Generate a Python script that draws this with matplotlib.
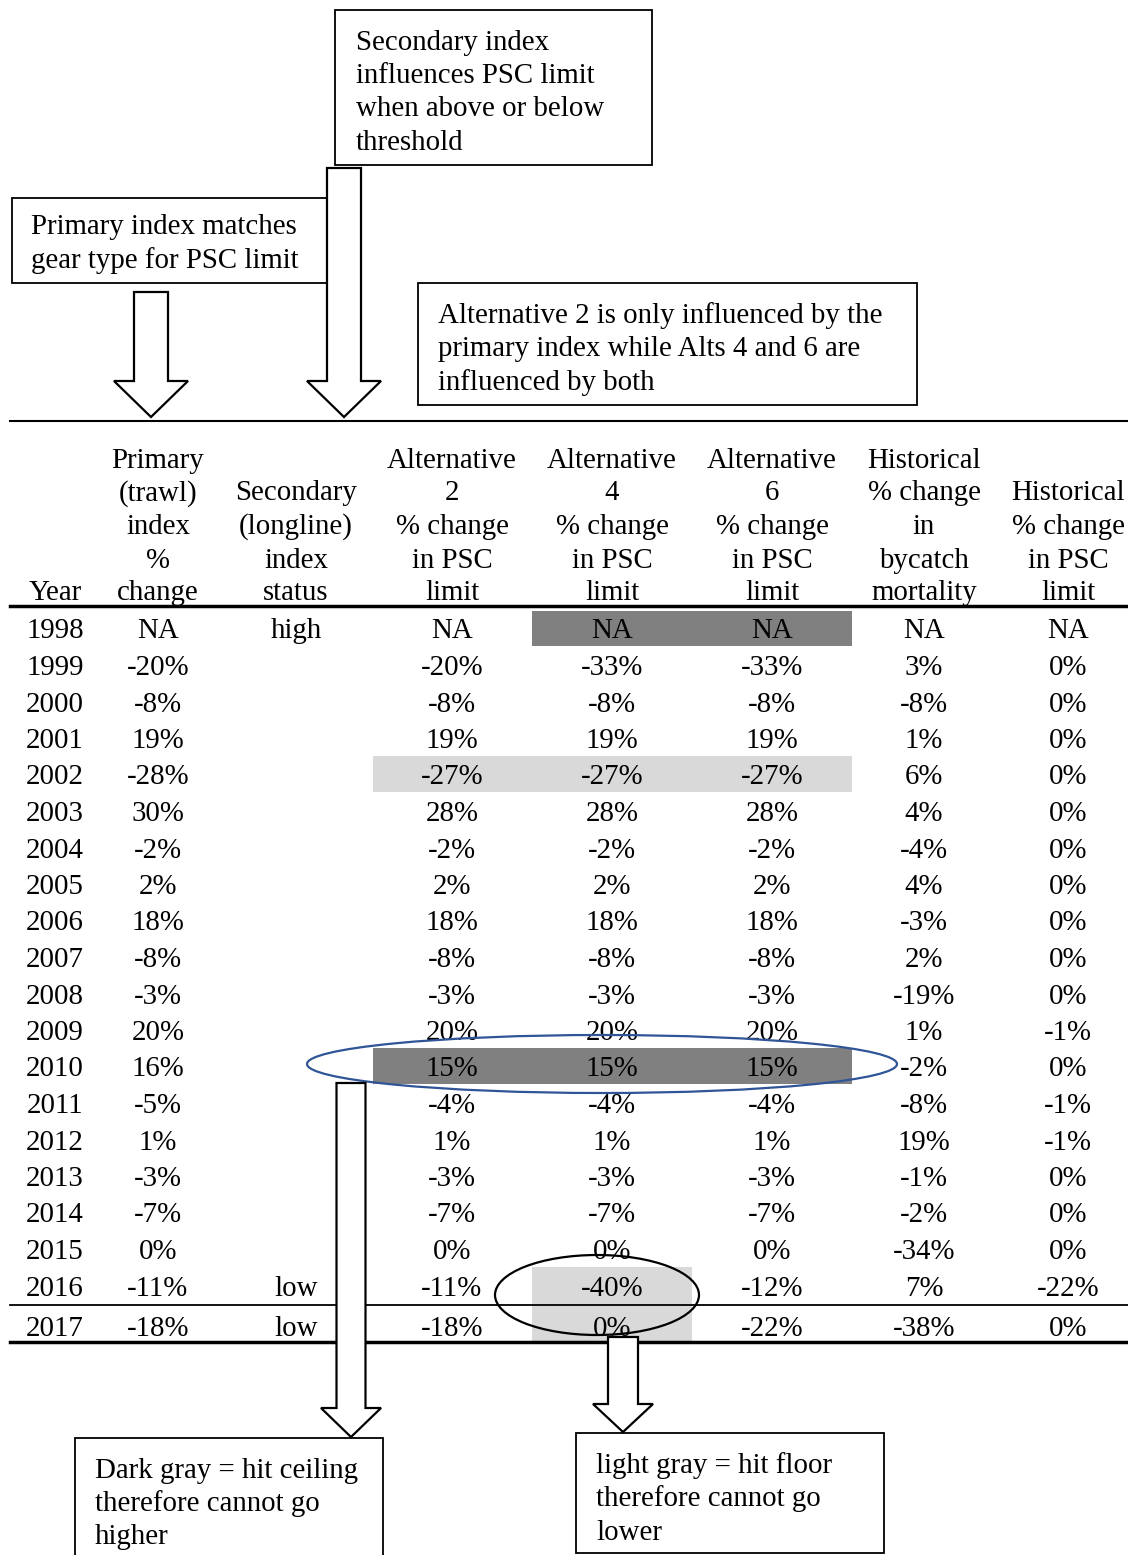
import matplotlib
matplotlib.use("Agg")
import matplotlib.pyplot as plt
from matplotlib.patches import Rectangle, Ellipse, Polygon

plt.rcParams['font.family'] = ['Liberation Serif', 'DejaVu Serif']

# ---------------- data ----------------
years = [1998, 1999, 2000, 2001, 2002, 2003, 2004, 2005, 2006, 2007,
         2008, 2009, 2010, 2011, 2012, 2013, 2014, 2015, 2016, 2017]
primary = ["NA", "-20%", "-8%", "19%", "-28%", "30%", "-2%", "2%", "18%", "-8%",
           "-3%", "20%", "16%", "-5%", "1%", "-3%", "-7%", "0%", "-11%", "-18%"]
secondary = ["high"] + [""] * 17 + ["low", "low"]
alt2 = ["NA", "-20%", "-8%", "19%", "-27%", "28%", "-2%", "2%", "18%", "-8%",
        "-3%", "20%", "15%", "-4%", "1%", "-3%", "-7%", "0%", "-11%", "-18%"]
alt4 = ["NA", "-33%", "-8%", "19%", "-27%", "28%", "-2%", "2%", "18%", "-8%",
        "-3%", "20%", "15%", "-4%", "1%", "-3%", "-7%", "0%", "-40%", "0%"]
alt6 = ["NA", "-33%", "-8%", "19%", "-27%", "28%", "-2%", "2%", "18%", "-8%",
        "-3%", "20%", "15%", "-4%", "1%", "-3%", "-7%", "0%", "-12%", "-22%"]
hist_bycatch = ["NA", "3%", "-8%", "1%", "6%", "4%", "-4%", "4%", "-3%", "2%",
                "-19%", "1%", "-2%", "-8%", "19%", "-1%", "-2%", "-34%", "7%", "-38%"]
hist_psc = ["NA", "0%", "0%", "0%", "0%", "0%", "0%", "0%", "0%", "0%",
            "0%", "-1%", "0%", "-1%", "-1%", "0%", "0%", "0%", "-22%", "0%"]

headers = [
    ["Year"],
    ["Primary", "(trawl)", "index", "%", "change"],
    ["Secondary", "(longline)", "index", "status"],
    ["Alternative", "2", "% change", "in PSC", "limit"],
    ["Alternative", "4", "% change", "in PSC", "limit"],
    ["Alternative", "6", "% change", "in PSC", "limit"],
    ["Historical", "% change", "in", "bycatch", "mortality"],
    ["Historical", "% change", "in PSC", "limit"],
]

# shaded cells: (row year, first col, last col)
dark_cells = [(1998, 4, 5), (2010, 3, 5)]
light_cells = [(2002, 3, 5), (2016, 4, 4), (2017, 4, 4)]

box_texts = {
    "secondary": ["Secondary index", "influences PSC limit", "when above or below", "threshold"],
    "primary": ["Primary index matches", "gear type for PSC limit"],
    "alts": ["Alternative 2 is only influenced by the", "primary index while Alts 4 and 6 are",
             "influenced by both"],
    "dark": ["Dark gray = hit ceiling", "therefore cannot go", "higher"],
    "light": ["light gray = hit floor", "therefore cannot go", "lower"],
}

# ---------------- layout ----------------
W, H = 1128, 1555
fig = plt.figure(figsize=(W / 100, H / 100), dpi=100)
ax = fig.add_axes([0, 0, 1, 1])
ax.set_xlim(0, W)
ax.set_ylim(H, 0)
ax.axis('off')

FS = 20.8
DY = 3.5  # text vertical offset
col_x = [55, 158, 296, 452, 612, 772, 924, 1068]
col_edges = [(10, 100), (100, 220), (220, 373), (373, 532), (532, 692), (692, 852), (852, 996), (996, 1128)]
row_y = [628 + i * 36.5 for i in range(19)] + [1326]
row_h = 36.5

header_lines_y = [457, 490, 523, 557, 590]

def row_bounds(i):
    if i < 19:
        top = row_y[i] - row_h / 2
        bot = row_y[i] + row_h / 2
        if i == 0:
            top = 611
        if i == 18:
            bot = 1305
        return top, bot
    return 1305, 1342

# shading
for yr, c0, c1 in dark_cells:
    i = years.index(yr)
    t, b = row_bounds(i)
    ax.add_patch(Rectangle((col_edges[c0][0], t), col_edges[c1][1] - col_edges[c0][0], b - t,
                           facecolor='#808080', edgecolor='none', zorder=1))
for yr, c0, c1 in light_cells:
    i = years.index(yr)
    t, b = row_bounds(i)
    ax.add_patch(Rectangle((col_edges[c0][0], t), col_edges[c1][1] - col_edges[c0][0], b - t,
                           facecolor='#d9d9d9', edgecolor='none', zorder=1))

# table lines
ax.plot([10, W], [421, 421], color='black', lw=1.5, zorder=2)
ax.plot([10, W], [606, 606], color='black', lw=2.5, zorder=2)
ax.plot([10, W], [1305, 1305], color='black', lw=1.3, zorder=2)
ax.plot([10, W], [1342, 1342], color='black', lw=2.5, zorder=2)

# headers (bottom aligned)
for cx, lines in zip(col_x, headers):
    ys = header_lines_y[-len(lines):]
    for y, s in zip(ys, lines):
        ax.text(cx, y + DY, s, ha='center', va='center', fontsize=FS, zorder=3)

# body
cols = [[str(y) for y in years], primary, secondary, alt2, alt4, alt6, hist_bycatch, hist_psc]
for cx, vals in zip(col_x, cols):
    for y, s in zip(row_y, vals):
        if s:
            ax.text(cx, y + DY, s, ha='center', va='center', fontsize=FS, zorder=3)

# ellipses
ax.add_patch(Ellipse((602, 1064), 590, 58, facecolor='none', edgecolor='#2f5597', lw=1.6, zorder=4))
ax.add_patch(Ellipse((597, 1295), 204, 80, facecolor='none', edgecolor='black', lw=1.6, zorder=4))

# block arrows
def block_arrow(xc, top, head_base, tip, shaft_w, head_w):
    pts = [(xc - shaft_w / 2, top), (xc + shaft_w / 2, top), (xc + shaft_w / 2, head_base),
           (xc + head_w / 2, head_base), (xc, tip), (xc - head_w / 2, head_base),
           (xc - shaft_w / 2, head_base)]
    ax.add_patch(Polygon(pts, closed=True, facecolor='white', edgecolor='black', lw=1.6,
                         joinstyle='miter', zorder=5))

# text boxes
def text_box(x0, y0, x1, y1, lines, tx, ty, pitch=33.5):
    ax.add_patch(Rectangle((x0, y0), x1 - x0, y1 - y0, facecolor='white', edgecolor='black',
                           lw=1.3, zorder=5))
    for k, s in enumerate(lines):
        ax.text(tx, ty + k * pitch + DY, s, ha='left', va='center', fontsize=FS, zorder=6)

text_box(335, 10, 652, 165, box_texts["secondary"], 356, 39)
text_box(12, 198, 328, 283, box_texts["primary"], 31, 224)
text_box(418, 283, 917, 405, box_texts["alts"], 438, 312)
text_box(75, 1438, 383, 1600, box_texts["dark"], 95, 1467)
text_box(576, 1433, 884, 1553, box_texts["light"], 596, 1462)

block_arrow(151, 292, 381, 417, 34, 74)
block_arrow(344, 168, 381, 417, 34, 74)
block_arrow(351, 1083, 1408, 1437, 29, 60)
block_arrow(623, 1337, 1404, 1432, 30, 60)

fig.savefig("out.png", dpi=100)
